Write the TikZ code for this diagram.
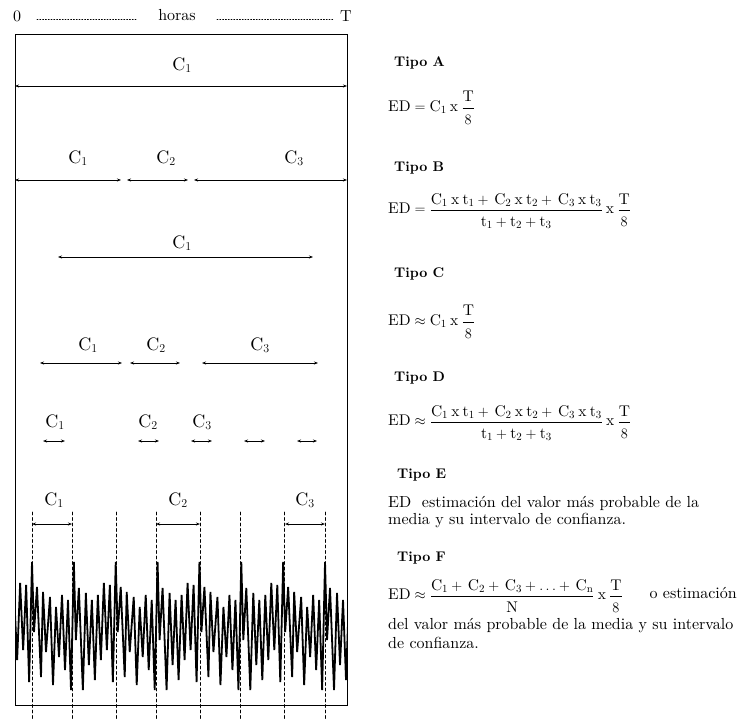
\documentclass[tikz,border=0pt]{standalone}
\usepackage{fontspec}
\setmainfont{lmroman10}[Extension=.otf,UprightFont=*-regular,BoldFont=*-bold,ItalicFont=*-italic,BoldItalicFont=*-bolditalic]
\usetikzlibrary{arrows.meta}
\newcommand\por{\mathbin{\mathrm{x}}}
\newcommand\frc[2]{\frac{#1\rule[-3pt]{0pt}{3pt}}{\rule{0pt}{15pt}#2}}
\begin{document}
\begin{tikzpicture}[x=1pt,y=-1pt,line cap=round,
  txt/.style={font=\fontsize{16}{20}\selectfont,inner sep=0pt},
  frm/.style={txt,font=\fontsize{15.5}{19}\selectfont,anchor=west},
  lbl/.style={txt,font=\fontsize{18}{22}\selectfont},
  tipo/.style={txt,font=\fontsize{14}{17}\selectfont\bfseries,anchor=west},
  cota/.style={line width=0.7pt,{Stealth[length=4pt,width=3pt]}-{Stealth[length=4pt,width=3pt]}},
  guia/.style={line width=0.6pt,dash pattern=on 3pt off 2.5pt},
  puntos/.style={line width=0.7pt,dash pattern=on 1pt off 1.8pt},
  onda/.style={line width=1.8pt,line join=miter}]
  \useasboundingbox (0,0) rectangle (738,720);
  \node[txt] (cero) at (17,16) {0};
  \node[txt] (horas) at (177,15) {horas};
  \node[txt] (tfin) at (346,16) {T};
  \draw[puntos] (37,19)--(137,19);
  \draw[puntos] (217,19)--(333,19);
  \draw[line width=0.8pt] (15,34) rectangle (347,705);
  \node[lbl] (a1) at (182,65) {C$_1$};
  \draw[cota] (15,86)--(347,86);
  \node[lbl] (b1) at (78,158) {C$_1$};
  \node[lbl] (b2) at (166,158) {C$_2$};
  \node[lbl] (b3) at (294,158) {C$_3$};
  \draw[cota] (15,180)--(121,180);
  \draw[cota] (127,180)--(188,180);
  \draw[cota] (194,180)--(347,180);
  \node[lbl] (c1) at (182,243) {C$_1$};
  \draw[cota] (58,257)--(313,257);
  \node[lbl] (d1) at (88,345) {C$_1$};
  \node[lbl] (d2) at (156,345) {C$_2$};
  \node[lbl] (d3) at (260,345) {C$_3$};
  \draw[cota] (40,363)--(122,363);
  \draw[cota] (130,363)--(180,363);
  \draw[cota] (202,363)--(318,363);
  \node[lbl] (e1) at (55,422) {C$_1$};
  \node[lbl] (e2) at (148,422) {C$_2$};
  \node[lbl] (e3) at (202,422) {C$_3$};
  \foreach \xa/\xb in {43/65,138/159,191/212,244/265,297/317}
    \draw[cota] (\xa,441)--(\xb,441);
  \node[lbl] (f1) at (54,500) {C$_1$};
  \node[lbl] (f2) at (178,500) {C$_2$};
  \node[lbl] (f3) at (305,500) {C$_3$};
  \draw[cota] (32,524)--(72,524);
  \draw[cota] (156,524)--(200,524);
  \draw[cota] (285,524)--(325,524);
  \foreach \xg in {32,72,116,156,200,240,284,325}
    \draw[guia] (\xg,512)--(\xg,720);
  \begin{scope}
    \clip (15,540) rectangle (347,705);
    \draw[onda] (-9.86,562) \foreach \k in {0,...,4} {
      --++(2,78)--++(3,-52)--++(4,102)--++(3,-97)--++(3,72)--++(3,-65)--++(3,80)
      --++(3,-85)--++(3,65)--++(3,-77)--++(3,67)--++(3,-65)--++(3,97)--++(2.86,-120)
      --++(2,70)--++(3,-45)--++(4,90)--++(2,-85)--++(3,60)--++(4,-55)--++(3,88)
      --++(3,-78)--++(3,50)--++(3,-62)--++(3,75)--++(3,-70)--++(3,90)--++(2.86,-128)};
  \end{scope}
  \node[tipo] (ta) at (394,63) {Tipo A};
  \node[frm] (eda) at (388,108) {$\mathrm{ED}=\mathrm{C}_1\por\displaystyle\frc{\mathrm{T}}{8}$};
  \node[tipo] (tb) at (394,168) {Tipo B};
  \node[frm] (edb) at (388,211) {$\mathrm{ED}=\displaystyle\frc{\mathrm{C}_1\por\mathrm{t}_1+\,\mathrm{C}_2\por\mathrm{t}_2+\,\mathrm{C}_3\por\mathrm{t}_3}{\mathrm{t}_1+\mathrm{t}_2+\mathrm{t}_3}\por\frc{\mathrm{T}}{8}$};
  \node[tipo] (tc) at (394,274) {Tipo C};
  \node[frm] (edc) at (388,322) {$\mathrm{ED}\approx\mathrm{C}_1\por\displaystyle\frc{\mathrm{T}}{8}$};
  \node[tipo] (td) at (394,378) {Tipo D};
  \node[frm] (edd) at (388,423) {$\mathrm{ED}\approx\displaystyle\frc{\mathrm{C}_1\por\mathrm{t}_1+\,\mathrm{C}_2\por\mathrm{t}_2+\,\mathrm{C}_3\por\mathrm{t}_3}{\mathrm{t}_1+\mathrm{t}_2+\mathrm{t}_3}\por\frc{\mathrm{T}}{8}$};
  \node[tipo] (te) at (397,475) {Tipo E};
  \node[txt,anchor=west] (ede1) at (388,503) {ED\ \ estimación del valor más probable de la};
  \node[txt,anchor=west] (ede2) at (388,520) {media y su intervalo de confianza.};
  \node[tipo] (tf) at (397,558) {Tipo F};
  \node[frm] (edf) at (388,596) {$\mathrm{ED}\approx\displaystyle\frc{\mathrm{C}_1+\,\mathrm{C}_2+\,\mathrm{C}_3+\ldots+\,\mathrm{C}_\mathrm{n}}{\mathrm{N}}\por\frc{\mathrm{T}}{8}$};
  \node[txt,anchor=east] (edfo) at (737,593) {o estimación};
  \node[txt,anchor=west] (edf1) at (388,626) {del valor más probable de la media y su intervalo};
  \node[txt,anchor=west] (edf2) at (388,643) {de confianza.};
\end{tikzpicture}
\end{document}
